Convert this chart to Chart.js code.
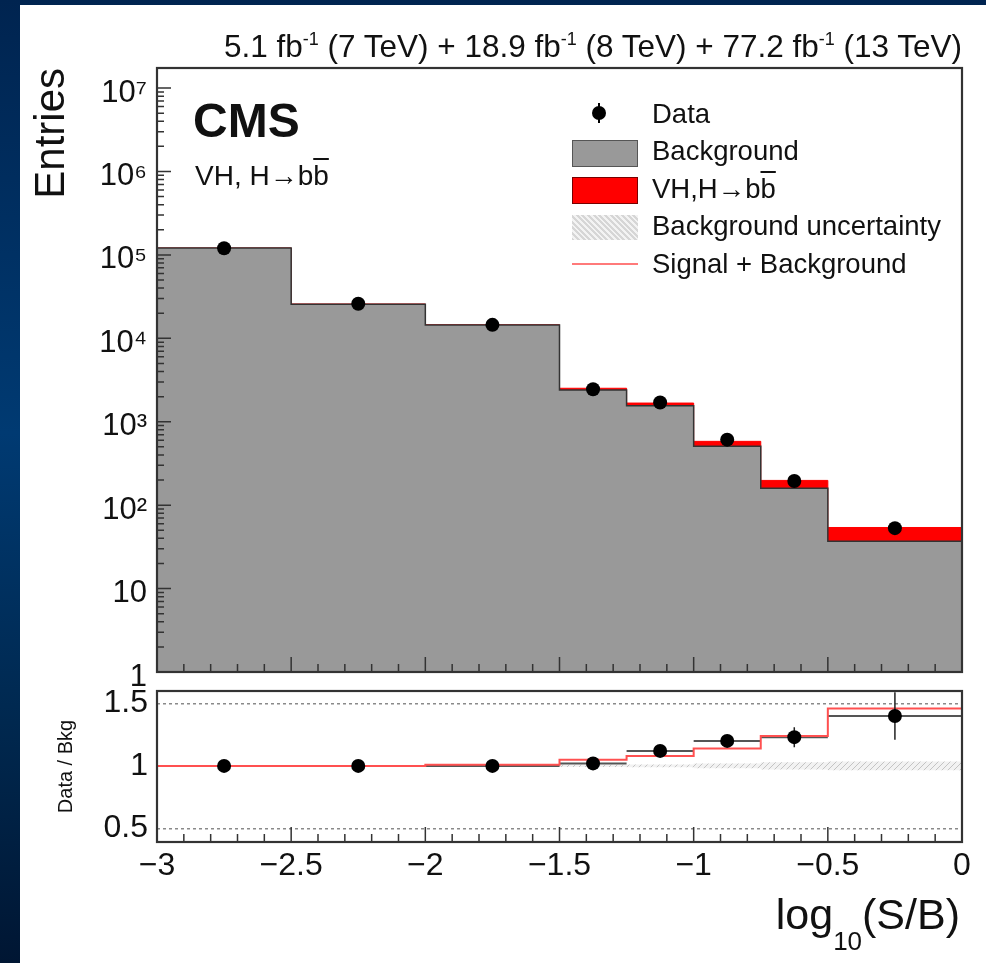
<!DOCTYPE html>
<html>
<head>
<meta charset="utf-8">
<script src="https://cdn.jsdelivr.net/npm/chart.js@4.4.1/dist/chart.umd.min.js"></script>
<style>
  body {
    margin: 0;
    width: 986px;
    height: 963px;
    position: relative;
    overflow: hidden;
    background: linear-gradient(180deg, #002450 0%, #003a72 45%, #00284f 75%, #001633 100%);
    font-family: 'Liberation Sans', Arial, Helvetica, sans-serif;
    color: #111;
  }
  .panel { position: absolute; left: 20px; top: 5px; width: 966px; height: 958px; background: #fff; }
  canvas { position: absolute; left: 0; }
  #mainChart { top: 0; }
  #ratioChart { top: 680px; }
  .txt { position: absolute; white-space: nowrap; line-height: 1; }
  .sup { font-size: 18px; position: relative; top: -12px; }
  .ob { text-decoration: overline; }
  .sw { position: absolute; box-sizing: border-box; }
</style>
</head>
<body>
<div class="panel"></div>
<canvas id="mainChart" width="986" height="700"></canvas>
<canvas id="ratioChart" width="986" height="283"></canvas>

<div class="txt" style="right:24px; top:31px; font-size:31.5px;">5.1 fb<span class="sup">-1</span> (7 TeV) + 18.9 fb<span class="sup">-1</span> (8 TeV) + 77.2 fb<span class="sup">-1</span> (13 TeV)</div>
<div class="txt" style="left:193px; top:97px; font-size:48px; font-weight:bold;">CMS</div>
<div class="txt" style="left:195px; top:162px; font-size:28px;">VH, H→b<span class="ob">b</span></div>

<div class="sw" style="left:598px; top:103px; width:2px; height:20px; background:#000;"></div>
<div class="sw" style="left:592px; top:106px; width:14px; height:14px; border-radius:7px; background:#000;"></div>
<div class="sw" style="left:572px; top:140px; width:66px; height:27px; background:#999; border:1.5px solid #555;"></div>
<div class="sw" style="left:572px; top:177px; width:66px; height:27px; background:#ff0000; border:1.5px solid #700;"></div>
<div class="sw" style="left:572px; top:215px; width:66px; height:25px; background:repeating-linear-gradient(45deg, #d6d6d6 0 2px, #f3f3f3 2px 4px);"></div>
<div class="sw" style="left:572px; top:263px; width:66px; height:2px; background:#ff7a7a;"></div>

<div class="txt" style="left:652px; top:100px; font-size:27.5px;">Data</div>
<div class="txt" style="left:652px; top:137px; font-size:27.5px;">Background</div>
<div class="txt" style="left:652px; top:175px; font-size:27.5px;">VH,H→b<span class="ob">b</span></div>
<div class="txt" style="left:652px; top:212px; font-size:27.5px;">Background uncertainty</div>
<div class="txt" style="left:652px; top:250px; font-size:27.5px;">Signal + Background</div>

<div class="txt" style="right:26px; top:893px; font-size:43px;">log<span style="font-size:26px; position:relative; top:21px;">10</span>(S/B)</div>

<script>
// bins in log10(S/B)
const binEdges = [-3, -2.5, -2, -1.5, -1.25, -1, -0.75, -0.5, 0];
const binCenters = [-2.75, -2.25, -1.75, -1.375, -1.125, -0.875, -0.625, -0.25];

// upper panel (entries)
const bkgEntries = [121000, 25700, 14400, 2400, 1550, 510, 160, 37];
const sigEntries = [240, 100, 145, 120, 125, 72, 38, 17];
const dataEntries = [120000, 26000, 14500, 2450, 1700, 610, 195, 53];

// lower panel (data / bkg)
const ratioData = [1.0, 1.0, 1.0, 1.02, 1.12, 1.2, 1.23, 1.4];
const ratioErr = [0.004, 0.006, 0.008, 0.015, 0.02, 0.04, 0.08, 0.19];
const ratioSB = [1.0, 1.0, 1.01, 1.05, 1.08, 1.14, 1.24, 1.46];
const bkgUnc = [0.004, 0.005, 0.006, 0.01, 0.012, 0.02, 0.03, 0.035];

// axes
const xTicks = [-3, -2.5, -2, -1.5, -1, -0.5, 0];
const logTicks = [1, 10, 100, 1e3, 1e4, 1e5, 1e6, 1e7];
const ratioTicks = [0.5, 1, 1.5];

const FONT = "'Liberation Sans', Arial, Helvetica, sans-serif";
const SUPS = '⁰¹²³⁴⁵⁶⁷⁸⁹';

// histogram as a stepped line: one point per left edge, plus the closing edge
function stepPoints(values) {
    return binEdges.map((x, i) => ({ x: x, y: values[Math.min(i, values.length - 1)] }));
}

function makeHatch() {
    const c = document.createElement('canvas');
    c.width = 6; c.height = 6;
    const g = c.getContext('2d');
    g.fillStyle = '#f2f2f2';
    g.fillRect(0, 0, 6, 6);
    g.strokeStyle = '#c4c4c4';
    g.lineWidth = 1;
    g.beginPath();
    g.moveTo(0, 6); g.lineTo(6, 0);
    g.stroke();
    return g.createPattern(c, 'repeat');
}

// ROOT-style frame with ticks pointing inwards
function frameTicks(withLeftTicks) {
    return {
        id: 'frameTicks',
        afterDatasetsDraw(chart) {
            const { ctx, chartArea: a, scales } = chart;
            ctx.save();
            ctx.strokeStyle = '#333';
            ctx.lineWidth = 1.5;
            ctx.beginPath();
            for (let i = 0; i <= 30; i++) {
                const px = scales.x.getPixelForValue(-3 + i * 0.1);
                const len = i % 5 === 0 ? 15 : 8;
                ctx.moveTo(px, a.bottom);
                ctx.lineTo(px, a.bottom - len);
            }
            if (withLeftTicks) {
                const y = scales.y;
                for (let n = 0; n <= 7; n++) {
                    for (let k = 1; k <= 9; k++) {
                        const v = k * Math.pow(10, n);
                        if (v > y.max) break;
                        const py = y.getPixelForValue(v);
                        ctx.moveTo(a.left, py);
                        ctx.lineTo(a.left + (k === 1 ? 14 : 7), py);
                    }
                }
            }
            ctx.stroke();
            ctx.lineWidth = 2.2;
            ctx.strokeRect(a.left, a.top, a.right - a.left, a.bottom - a.top);
            ctx.restore();
        }
    };
}

// fixed axis width, and no extra room for labels that stick out
function fixWidth(s) {
    s.width = 157;
    s.paddingTop = 0;
    s.paddingBottom = 0;
}

const common = {
    responsive: false,
    animation: false,
    devicePixelRatio: 1,
    events: [],
    plugins: { legend: { display: false }, tooltip: { enabled: false } }
};

// ---------- upper panel ----------
const totalEntries = bkgEntries.map((b, i) => b + sigEntries[i]);

new Chart(document.getElementById('mainChart'), {
    type: 'line',
    data: {
        datasets: [
            {
                label: 'Data',
                data: binCenters.map((x, i) => ({ x: x, y: dataEntries[i] })),
                showLine: false,
                pointRadius: 7,
                pointBackgroundColor: '#000',
                pointBorderWidth: 0,
                order: 0
            },
            {
                label: 'Background',
                data: stepPoints(bkgEntries),
                stepped: 'before',
                borderColor: '#333',
                borderWidth: 1.5,
                backgroundColor: '#999999',
                fill: 'start',
                pointRadius: 0,
                order: 2
            },
            {
                label: 'VH,H→bb',
                data: stepPoints(totalEntries),
                stepped: 'before',
                borderColor: '#ff0000',
                borderWidth: 1,
                backgroundColor: '#ff0000',
                fill: 'start',
                pointRadius: 0,
                order: 3
            }
        ]
    },
    options: {
        ...common,
        layout: { padding: { top: 68, right: 24, bottom: 28, left: 0 } },
        scales: {
            x: { type: 'linear', min: -3, max: 0, display: false },
            y: {
                type: 'logarithmic',
                min: 1,
                max: 1.74e7,
                afterBuildTicks: s => { s.ticks = logTicks.map(v => ({ value: v })); },
                afterFit: fixWidth,
                grid: { display: false, drawTicks: false },
                border: { display: false },
                ticks: {
                    autoSkip: false,
                    padding: 10,
                    labelOffset: 5,
                    color: '#111',
                    font: { family: FONT, size: 31 },
                    callback: v => {
                        const n = Math.round(Math.log10(v));
                        if (n === 0) return '1';
                        if (n === 1) return '10';
                        return '10' + SUPS[n];
                    }
                },
                title: {
                    display: true,
                    text: 'Entries',
                    align: 'end',
                    color: '#111',
                    font: { family: FONT, size: 42 },
                    padding: { top: 27, bottom: 0 }
                }
            }
        }
    },
    plugins: [frameTicks(true)]
});

// ---------- lower panel ----------
const hatch = makeHatch();
const xErrLines = [];
const yErrLines = [];
binCenters.forEach((x, i) => {
    xErrLines.push({ x: binEdges[i], y: ratioData[i] }, { x: binEdges[i + 1], y: ratioData[i] }, { x: binEdges[i + 1], y: null });
    yErrLines.push({ x: x, y: ratioData[i] - ratioErr[i] }, { x: x, y: ratioData[i] + ratioErr[i] }, { x: x, y: null });
});

new Chart(document.getElementById('ratioChart'), {
    type: 'line',
    data: {
        datasets: [
            {
                label: 'Data / Bkg',
                data: binCenters.map((x, i) => ({ x: x, y: ratioData[i] })),
                showLine: false,
                pointRadius: 7,
                pointBackgroundColor: '#000',
                pointBorderWidth: 0,
                order: 0
            },
            {
                label: 'stat. error',
                data: yErrLines,
                borderColor: '#222',
                borderWidth: 1.5,
                pointRadius: 0,
                spanGaps: false,
                order: 1
            },
            {
                label: 'Signal + Background',
                data: stepPoints(ratioSB),
                stepped: 'before',
                borderColor: '#ff5050',
                borderWidth: 2,
                pointRadius: 0,
                order: 2
            },
            {
                label: 'bin width',
                data: xErrLines,
                borderColor: '#555',
                borderWidth: 2,
                pointRadius: 0,
                spanGaps: false,
                order: 3
            },
            {
                label: 'unc up',
                data: stepPoints(bkgUnc.map(u => 1 + u)),
                stepped: 'before',
                borderWidth: 0,
                pointRadius: 0,
                backgroundColor: hatch,
                fill: '+1',
                order: 5
            },
            {
                label: 'unc down',
                data: stepPoints(bkgUnc.map(u => 1 - u)),
                stepped: 'before',
                borderWidth: 0,
                pointRadius: 0,
                fill: false,
                order: 6
            }
        ]
    },
    options: {
        ...common,
        layout: { padding: { top: 11, right: 24, bottom: 61, left: 0 } },
        scales: {
            x: {
                type: 'linear',
                min: -3,
                max: 0,
                afterBuildTicks: s => { s.ticks = xTicks.map(v => ({ value: v })); },
                afterFit: s => { s.height = 60; },
                grid: { display: false, drawTicks: false },
                border: { display: false },
                ticks: {
                    autoSkip: false,
                    maxRotation: 0,
                    padding: 5,
                    color: '#111',
                    font: { family: FONT, size: 32 },
                    callback: v => String(v).replace('-', '−')
                }
            },
            y: {
                type: 'linear',
                min: 0.39,
                max: 1.6,
                afterBuildTicks: s => { s.ticks = ratioTicks.map(v => ({ value: v })); },
                afterFit: fixWidth,
                grid: { display: true, drawTicks: false, color: '#8a8a8a', lineWidth: 1.5 },
                border: { display: false, dash: [3, 3] },
                ticks: {
                    autoSkip: false,
                    padding: 9,
                    color: '#111',
                    font: { family: FONT, size: 32 },
                    callback: v => String(v)
                },
                title: {
                    display: true,
                    text: 'Data / Bkg',
                    align: 'center',
                    color: '#111',
                    font: { family: FONT, size: 20 },
                    padding: { top: 54, bottom: 0 }
                }
            }
        }
    },
    plugins: [frameTicks(false)]
});
</script>
</body>
</html>
